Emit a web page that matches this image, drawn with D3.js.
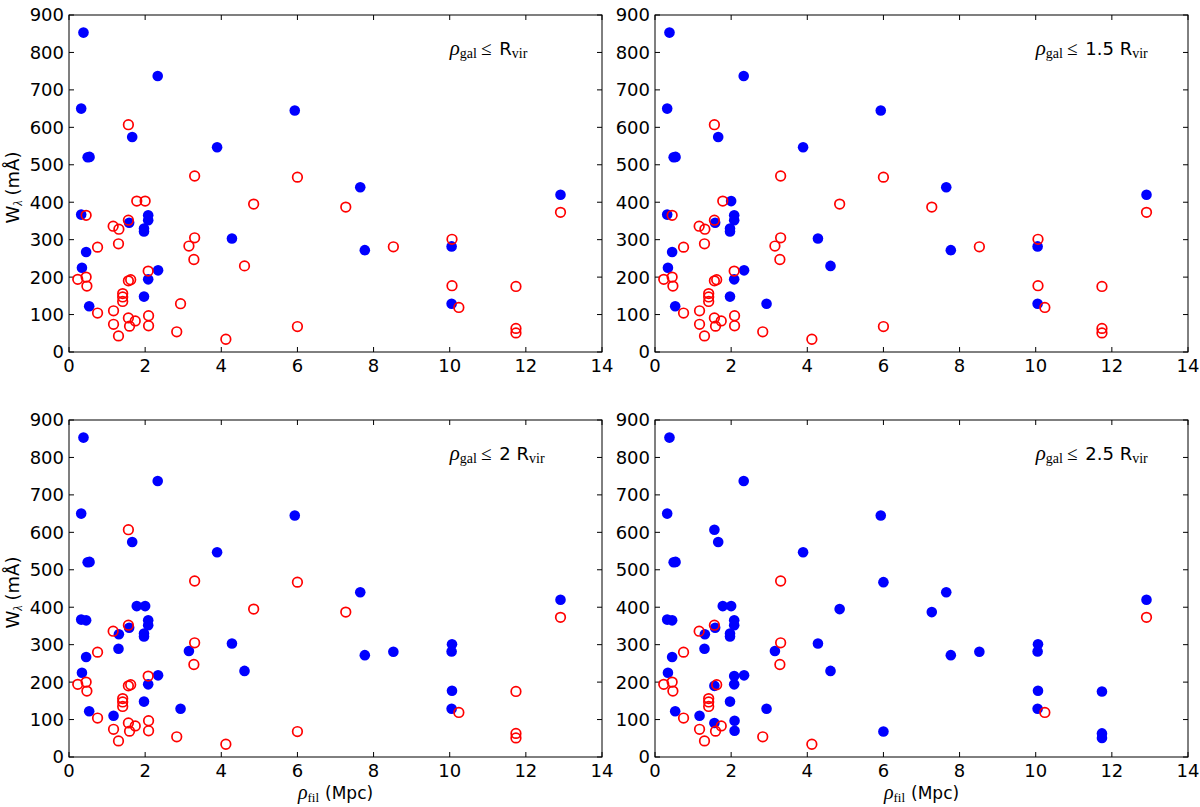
<!DOCTYPE html>
<html>
<head>
<meta charset="utf-8">
<script src="https://cdn.jsdelivr.net/npm/d3@7"></script>
<style>
  body { margin: 0; background: #fff; }
  svg { display: block; }
  .tick-label { font-family: "DejaVu Sans", sans-serif; font-size: 18px; fill: #000; }
</style>
</head>
<body>
<div id="chart"></div>
<script>
// Absorbers: filament distance (Mpc), equivalent width (mA),
// and the smallest galaxy radius (in R_vir) at which the point is drawn filled (null = never)
const rhoFil = [
    0.38, 0.32, 2.33, 5.93, 1.66, 3.89, 0.49, 0.54, 0.32, 1.58,
    2.08, 2.08, 1.97, 1.97, 0.45, 4.28, 0.34, 2.08, 2.34, 1.97,
    0.53, 7.65, 7.77, 10.05, 10.05, 12.91,
    1.56, 0.45, 1.78, 2.00, 3.30, 6.00, 4.85, 1.16, 1.31, 1.56,
    0.75, 1.30, 3.15, 3.30, 3.28, 4.61, 2.08, 0.23, 0.45, 0.47,
    1.56, 1.62, 1.41, 1.41, 1.41, 2.93, 0.75, 1.17, 2.09, 1.56,
    1.74, 1.17, 1.59, 2.09, 2.83, 1.30, 4.12, 6.00, 7.27, 8.52,
    10.06, 10.06, 10.24, 11.74, 11.74, 11.74, 12.91
];
const wLambda = [
    853, 650, 737, 645, 574, 547, 520, 521, 367, 345,
    365, 352, 330, 322, 267, 303, 225, 194, 218, 148,
    122, 440, 272, 282, 129, 420,
    607, 365, 403, 403, 470, 467, 395, 336, 328, 352,
    280, 289, 283, 305, 247, 230, 216, 194, 200, 176,
    190, 193, 156, 147, 135, 129, 104, 110, 97, 91,
    83, 74, 69, 70, 54, 43, 34, 68, 387, 281,
    301, 177, 119, 175, 63, 51, 373
];
const filledFrom = [
    1, 1, 1, 1, 1, 1, 1, 1, 1, 1,
    1, 1, 1, 1, 1, 1, 1, 1, 1, 1,
    1, 1, 1, 1, 1, 1,
    2.5, 2, 2, 1.5, null, 2.5, 2.5, null, 2, null,
    null, 2, 2, null, null, 1.5, 2.5, null, null, null,
    2.5, null, null, null, null, 1.5, null, 2, 2.5, 2.5,
    null, null, null, 2.5, null, null, null, 2.5, 2.5, 2,
    2, 2, null, 2.5, 2.5, 2.5, null
];

// Panels: galaxy radius limit and the factor printed in the label
const panelLimits = [1, 1.5, 2, 2.5];
const panelFactors = ['', '1.5 ', '2 ', '2.5 '];

const xTicks = [0, 2, 4, 6, 8, 10, 12, 14];
const yTicks = [0, 100, 200, 300, 400, 500, 600, 700, 800, 900];

const W = 1200, H = 807;
const plotW = 533, plotH = 337;
const lefts = [69, 655];
const tops = [15, 420];

const svg = d3.select('#chart').append('svg')
    .attr('width', W)
    .attr('height', H);

const points = rhoFil.map((x, i) => ({ x: x, y: wLambda[i], from: filledFrom[i] }));

panelLimits.forEach((limit, p) => {
    const col = p % 2;
    const row = Math.floor(p / 2);
    const g = svg.append('g')
        .attr('transform', `translate(${lefts[col]},${tops[row]})`);

    const x = d3.scaleLinear().domain([0, 14]).range([0, plotW]);
    const y = d3.scaleLinear().domain([0, 900]).range([plotH, 0]);

    // ticks on all four sides, pointing inwards
    const tickLen = 5;
    xTicks.forEach(t => {
        g.append('line').attr('x1', x(t)).attr('x2', x(t))
            .attr('y1', plotH).attr('y2', plotH - tickLen)
            .attr('stroke', '#000').attr('stroke-width', 1);
        g.append('line').attr('x1', x(t)).attr('x2', x(t))
            .attr('y1', 0).attr('y2', tickLen)
            .attr('stroke', '#000').attr('stroke-width', 1);
        g.append('text')
            .attr('class', 'tick-label')
            .attr('x', x(t))
            .attr('y', plotH + 20)
            .attr('text-anchor', 'middle')
            .text(t);
    });
    yTicks.forEach(t => {
        g.append('line').attr('x1', 0).attr('x2', tickLen)
            .attr('y1', y(t)).attr('y2', y(t))
            .attr('stroke', '#000').attr('stroke-width', 1);
        g.append('line').attr('x1', plotW).attr('x2', plotW - tickLen)
            .attr('y1', y(t)).attr('y2', y(t))
            .attr('stroke', '#000').attr('stroke-width', 1);
        g.append('text')
            .attr('class', 'tick-label')
            .attr('x', -5)
            .attr('y', y(t))
            .attr('dy', '0.36em')
            .attr('text-anchor', 'end')
            .text(t);
    });

    // blue filled first, red rings on top
    const filled = points.filter(d => d.from !== null && d.from <= limit);
    const open = points.filter(d => !(d.from !== null && d.from <= limit));

    g.append('g').selectAll('circle')
        .data(filled)
        .enter()
        .append('circle')
        .attr('cx', d => x(d.x))
        .attr('cy', d => y(d.y))
        .attr('r', 5.3)
        .attr('fill', '#0000ff');

    g.append('g').selectAll('circle')
        .data(open)
        .enter()
        .append('circle')
        .attr('cx', d => x(d.x))
        .attr('cy', d => y(d.y))
        .attr('r', 4.8)
        .attr('fill', 'none')
        .attr('stroke', '#ff0000')
        .attr('stroke-width', 1.7);

    // frame
    g.append('rect')
        .attr('width', plotW)
        .attr('height', plotH)
        .attr('fill', 'none')
        .attr('stroke', '#000')
        .attr('stroke-width', 1);

    // panel label
    const lab = g.append('text')
        .attr('x', x(10))
        .attr('y', y(800) + 3)
        .attr('fill', '#000');
    lab.append('tspan').attr('font-family', 'Liberation Serif, serif').attr('font-style', 'italic')
        .attr('font-size', 21).text('ρ');
    lab.append('tspan').attr('font-family', 'Liberation Serif, serif')
        .attr('font-size', 14).attr('dy', 3).text('gal');
    lab.append('tspan').attr('font-family', 'Liberation Serif, serif')
        .attr('font-size', 19).attr('dy', -3).attr('dx', 4).text('≤');
    lab.append('tspan').attr('font-family', 'DejaVu Sans, sans-serif')
        .attr('font-size', 18).attr('dx', 8).text(panelFactors[p] + 'R');
    lab.append('tspan').attr('font-family', 'Liberation Serif, serif')
        .attr('font-size', 14).attr('dy', 3).text('vir');

    // y label on left column
    if (col === 0) {
        const yl = g.append('text')
            .attr('transform', `translate(-50,${plotH / 2 + 4}) rotate(-90)`)
            .attr('text-anchor', 'middle')
            .attr('fill', '#000');
        yl.append('tspan').attr('font-family', 'DejaVu Sans, sans-serif')
            .attr('font-size', 18).text('W');
        yl.append('tspan').attr('font-family', 'Liberation Serif, serif').attr('font-style', 'italic')
            .attr('font-size', 12).attr('dy', 3).text('λ');
        yl.append('tspan').attr('font-family', 'DejaVu Sans, sans-serif')
            .attr('font-size', 18).attr('dy', -3).attr('dx', 5).text('(mÅ)');
    }

    // x label on bottom row
    if (row === 1) {
        const xl = g.append('text')
            .attr('x', plotW / 2)
            .attr('y', plotH + 42)
            .attr('text-anchor', 'middle')
            .attr('fill', '#000');
        xl.append('tspan').attr('font-family', 'Liberation Serif, serif').attr('font-style', 'italic')
            .attr('font-size', 20).text('ρ');
        xl.append('tspan').attr('font-family', 'Liberation Serif, serif')
            .attr('font-size', 13).attr('dy', 3).text('fil');
        xl.append('tspan').attr('font-family', 'DejaVu Sans, sans-serif')
            .attr('font-size', 17).attr('dy', -3).attr('dx', 6).text('(Mpc)');
    }
});
</script>
</body>
</html>
